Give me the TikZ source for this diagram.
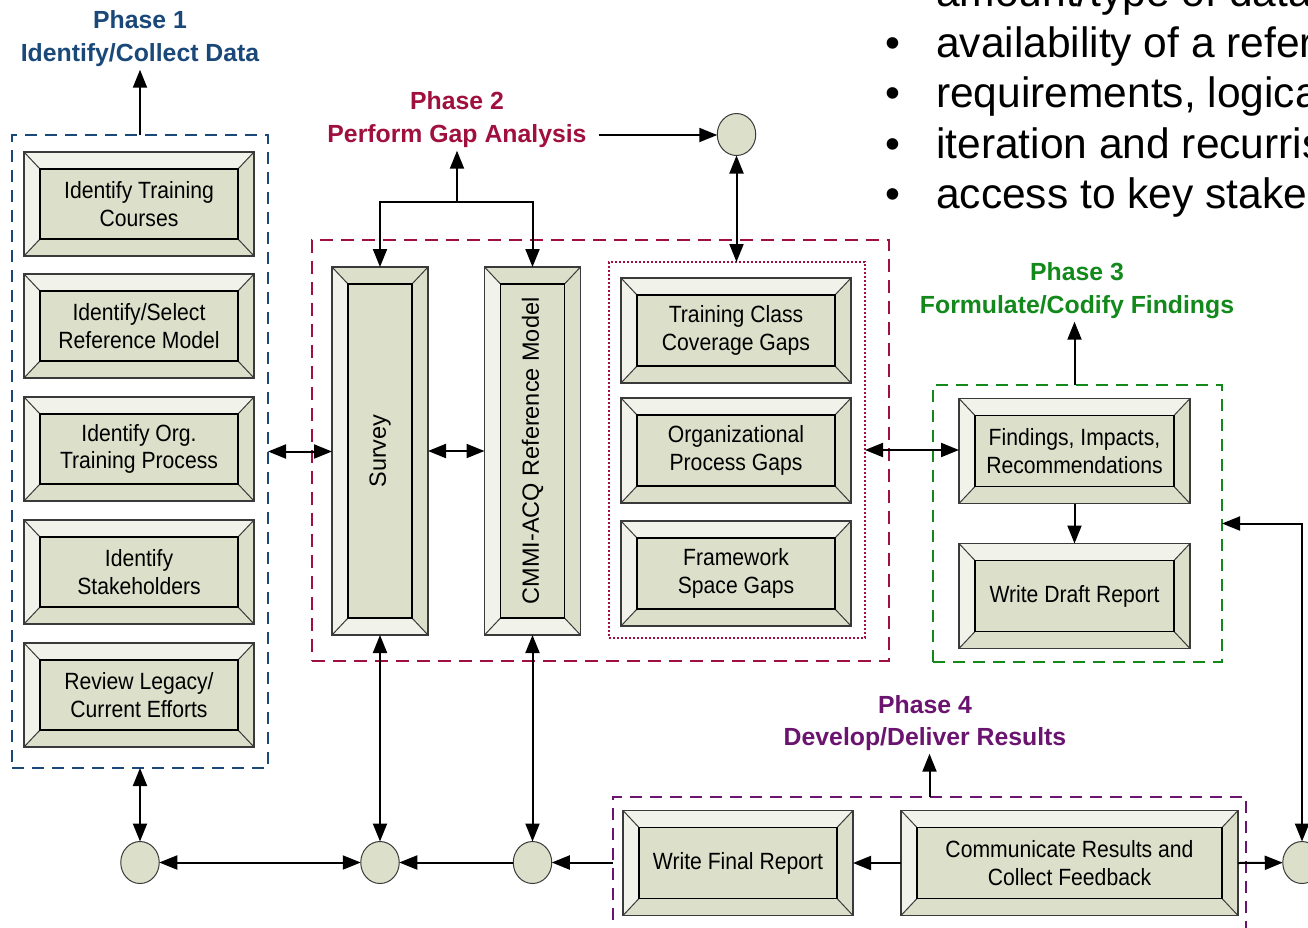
\documentclass[tikz,border=0pt]{standalone}
\usepackage{fontspec}
\usepackage{graphicx}
\setmainfont{Liberation Sans}
\newfontfamily\boxfont{Liberation Sans}[FakeStretch=0.9]
\newfontfamily\uprightsans{Liberation Sans}
\usetikzlibrary{arrows.meta,shapes.geometric,calc}

\definecolor{boxmid}{HTML}{DCE0CA}
\definecolor{bevlight}{HTML}{F1F2EA}
\definecolor{pblue}{HTML}{1A4879}
\definecolor{pred}{HTML}{A0103E}
\definecolor{pgreen}{HTML}{13891B}
\definecolor{ppurple}{HTML}{6A1470}
\definecolor{edgegray}{HTML}{3A3A3A}

\tikzset{
  bevelbase/.style={rectangle, fill=boxmid, inner sep=0pt, outer sep=0pt, align=center,
    font=\boxfont\fontsize{23.5}{27.5}\selectfont},
  bevedge/.style={draw=edgegray, line width=1pt},
  bevinner/.style={draw=black, line width=1.5pt},
  bevouter/.style={draw=edgegray, line width=1.2pt},
  cont/.style={rectangle, inner sep=0pt, outer sep=0pt, line width=2pt, dash pattern=on 12pt off 8pt},
  dotcont/.style={rectangle, inner sep=0pt, outer sep=0pt, line width=1.6pt, dash pattern=on 2pt off 2pt, draw=pred},
  junc/.style={ellipse, draw=edgegray, fill=boxmid, line width=1pt, inner sep=0pt, outer sep=0pt,
    minimum width=38.5pt, minimum height=42pt},
  phlab/.style={font=\bfseries\fontsize{24.8}{30}\selectfont, inner xsep=0pt, inner ysep=4.5pt,
    text height=18pt, text depth=4pt},
  tipshape/.tip={Triangle[length=18pt,width=14pt]},
  arr/.style={line width=2pt, -tipshape},
  darr/.style={line width=2pt, tipshape-tipshape},
  bultext/.style={font=\fontsize{42.5}{50}\selectfont, inner sep=0pt, anchor=base west},
  bulmark/.style={font=\fontsize{42.5}{50}\selectfont, inner sep=0pt, anchor=base},
}

% name, cx, cy, width, height, top bevel colour, bottom bevel colour, text
\newcommand{\bevelbox}[8]{%
  \node[bevelbase, minimum width=#4pt, minimum height=#5pt] (#1) at (#2,#3) {#8};
  \coordinate (#1-a) at ($(#1.north west)+(16,17)$);
  \coordinate (#1-b) at ($(#1.north east)+(-16,17)$);
  \coordinate (#1-c) at ($(#1.south east)+(-16,-17)$);
  \coordinate (#1-d) at ($(#1.south west)+(16,-17)$);
  \fill[#6] (#1.north west) -- (#1.north east) -- (#1-b) -- (#1-a) -- cycle;
  \fill[bevlight] (#1.north west) -- (#1-a) -- (#1-d) -- (#1.south west) -- cycle;
  \fill[#7] (#1.south west) -- (#1-d) -- (#1-c) -- (#1.south east) -- cycle;
  \fill[boxmid] (#1.north east) -- (#1.south east) -- (#1-c) -- (#1-b) -- cycle;
  \draw[bevedge] (#1.north west) -- (#1-a) (#1.north east) -- (#1-b)
                 (#1.south east) -- (#1-c) (#1.south west) -- (#1-d);
  \draw[bevinner] (#1-a) rectangle (#1-c);
  \draw[bevouter] (#1.north west) rectangle (#1.south east);
}

\begin{document}
\begin{tikzpicture}[x=1pt, y=-1pt]
\useasboundingbox (0,0) rectangle (1308,927);
\clip (0,0) rectangle (1308,927);
\fill[white] (0,0) rectangle (1308,927);

% bullet list in the upper right corner
\node[bulmark] (bu0) at (893,6.5) {•};
\node[bultext] (bl0) at (936,6.5) {amount/type of data};
\node[bulmark] (bu1) at (893,57) {•};
\node[bultext] (bl1) at (936,57) {availability of a refer};
\node[bulmark] (bu2) at (893,107.5) {•};
\node[bultext] (bl2) at (936,107.5) {requirements, logica};
\node[bulmark] (bu3) at (893,158) {•};
\node[bultext] (bl3) at (936,158) {iteration and recurris};
\node[bulmark] (bu4) at (893,208.5) {•};
\node[bultext] (bl4) at (936,208.5) {access to key stake};

% phase titles
\node[phlab, text=pblue] (ph1a) at (140,21) {Phase 1};
\node[phlab, text=pblue] (ph1b) at (140,54) {Identify/Collect Data};
\node[phlab, text=pred] (ph2a) at (457,102) {Phase 2};
\node[phlab, text=pred] (ph2b) at (457,135) {Perform Gap Analysis};
\node[phlab, text=pgreen] (ph3a) at (1077,273) {Phase 3};
\node[phlab, text=pgreen] (ph3b) at (1077,306) {Formulate/Codify Findings};
\node[phlab, text=ppurple] (ph4a) at (925,706) {Phase 4};
\node[phlab, text=ppurple] (ph4b) at (925,738) {Develop/Deliver Results};

% phase containers
\node[cont, draw=pblue, minimum width=256pt, minimum height=633pt] (p1box) at (140,451.5) {};
\node[cont, draw=pred, dash pattern=on 13pt off 8pt, minimum width=577pt, minimum height=421pt] (p2box) at (600.5,450.5) {};
\node[dotcont, minimum width=256pt, minimum height=376pt] (gapbox) at (737,450) {};
\node[cont, draw=pgreen, minimum width=289pt, minimum height=277pt] (p3box) at (1077.5,523.5) {};
\node[cont, draw=ppurple, minimum width=633pt, minimum height=143pt] (p4box) at (929.5,868.5) {};

% phase 1 tasks
\bevelbox{b1}{139}{204}{230}{104}{bevlight}{boxmid}{Identify Training\\Courses}
\bevelbox{b2}{139}{326}{230}{104}{bevlight}{boxmid}{Identify/Select\\Reference Model}
\bevelbox{b3}{139}{449}{230}{104}{bevlight}{boxmid}{Identify Org.\\Training Process}
\bevelbox{b4}{139}{572}{230}{104}{bevlight}{boxmid}{Identify\\Stakeholders}
\bevelbox{b5}{139}{695}{230}{104}{bevlight}{boxmid}{Review Legacy/\\Current Efforts}

% phase 2 tasks
\bevelbox{survey}{380}{451}{96}{368}{boxmid}{bevlight}{\rotatebox{90}{\uprightsans Survey}}
\bevelbox{cmmi}{532.5}{451}{96}{368}{boxmid}{bevlight}{\rotatebox{90}{\uprightsans CMMI-ACQ Reference Model}}
\bevelbox{g1}{736}{330.5}{230}{105}{bevlight}{boxmid}{Training Class\\Coverage Gaps}
\bevelbox{g2}{736}{450.5}{230}{105}{bevlight}{boxmid}{Organizational\\Process Gaps}
\bevelbox{g3}{736}{573.5}{230}{105}{bevlight}{boxmid}{Framework\\Space Gaps}

% phase 3 tasks
\bevelbox{find}{1074.5}{451}{231}{105}{bevlight}{boxmid}{Findings, Impacts,\\Recommendations}
\bevelbox{draft}{1074.5}{596}{231}{105}{bevlight}{boxmid}{Write Draft Report}

% phase 4 tasks
\bevelbox{wfr}{738}{863}{230}{105}{bevlight}{boxmid}{Write Final Report}
\bevelbox{comm}{1069.5}{863}{337}{105}{bevlight}{boxmid}{Communicate Results and\\Collect Feedback}

% junction circles
\node[junc] (ctop) at (736.5,134.5) {};
\node[junc] (c1) at (140,862.5) {};
\node[junc] (c2) at (380,862.5) {};
\node[junc] (c3) at (532.5,862.5) {};
\node[junc] (c4) at (1302,862.5) {};
\coordinate (j2) at (457,202);

% connectors
\draw[arr] (p1box.north) -- (p1box.north |- ph1b.south);
\draw[darr] (p1box.east) -- (p1box.east -| survey.west);
\draw[darr] (survey.east) -- (cmmi.west);
\draw[arr] (j2) -- (j2 |- ph2b.south);
\draw[arr] (j2) -| (survey.north);
\draw[arr] (j2) -| (cmmi.north);
\draw[arr, shorten <=12pt] (ph2b.east) -- (ph2b.east -| ctop.west);
\draw[darr] (ctop.south) -- (ctop.south |- gapbox.north);
\draw[darr] (gapbox.east) -- (gapbox.east -| find.west);
\draw[arr] (find.south) -- (draft.north);
\draw[arr] (find.north |- p3box.north) -- (find.north |- ph3b.south);
\draw[darr] (c4) |- (p3box.east);
\draw[arr] (comm.east) -- (c4);
\draw[arr] (comm.west) -- (wfr.east);
\draw[arr] (p4box.north) -- (p4box.north |- ph4b.south);
\draw[arr] (p4box.west |- c3) -- (c3);
\draw[arr] (c3) -- (c2);
\draw[darr] (c1) -- (c2);
\draw[darr] (p1box.south) -- (c1.north);
\draw[darr] (survey.south) -- (c2.north);
\draw[darr] (cmmi.south) -- (c3.north);
\end{tikzpicture}
\end{document}
